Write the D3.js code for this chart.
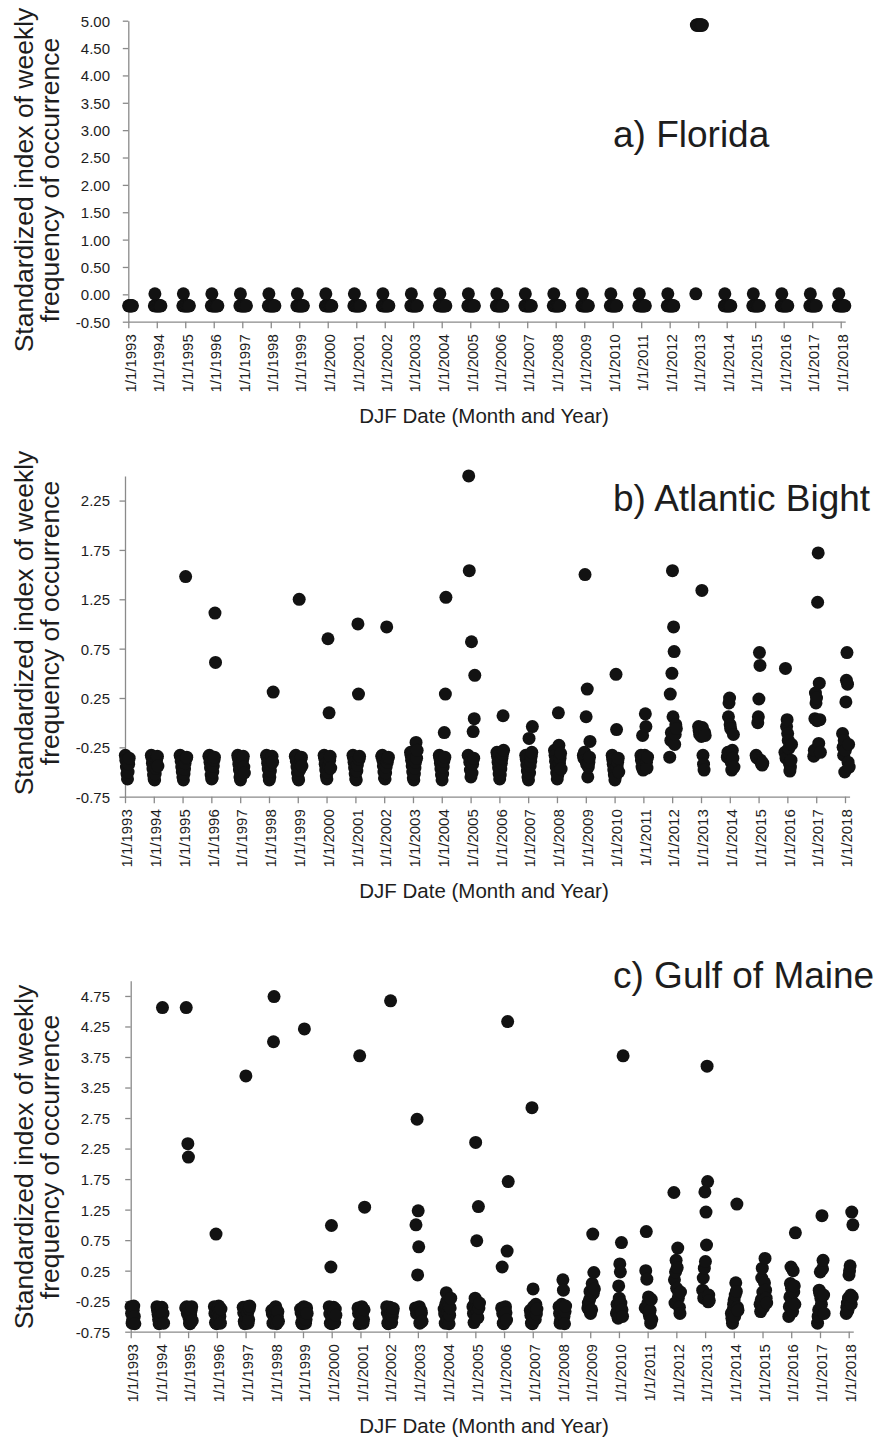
<!DOCTYPE html>
<html>
<head>
<meta charset="utf-8">
<script src="https://cdn.jsdelivr.net/npm/d3@7"></script>
<style>
  html, body { margin: 0; padding: 0; background: #fff; }
  svg { display: block; }
  text { font-family: "Liberation Sans", Arial, Helvetica, sans-serif; fill: #1d1d1d; }
</style>
</head>
<body>
<svg id="chart" width="881" height="1439"></svg>
<script>
// Winter seasons (DJF), labelled by the January year
const winterYears = [1993, 1994, 1995, 1996, 1997, 1998, 1999, 2000, 2001, 2002, 2003, 2004, 2005,
                     2006, 2007, 2008, 2009, 2010, 2011, 2012, 2013, 2014, 2015, 2016, 2017, 2018];

// Weekly sampling dates within each DJF season (month-day); December belongs to the previous year
const weekStarts = ["12-01", "12-08", "12-15", "12-22", "12-29", "01-05", "01-12",
                    "01-19", "01-26", "02-02", "02-09", "02-16", "02-23"];

// Standardized index of weekly frequency of occurrence, one row per season, one value per week
const floridaIndex = [
  [null, null, null, null, null, -0.21, -0.21, -0.21, -0.21, -0.21, -0.21, -0.21, -0.21],
  [-0.21, 0.01, -0.21, -0.21, -0.21, -0.21, -0.21, -0.21, -0.21, -0.21, -0.21, -0.21, -0.21],
  [-0.21, 0.01, -0.21, -0.21, -0.21, -0.21, -0.21, -0.21, -0.21, -0.21, -0.21, -0.21, -0.21],
  [-0.21, 0.01, -0.21, -0.21, -0.21, -0.21, -0.21, -0.21, -0.21, -0.21, -0.21, -0.21, -0.21],
  [-0.21, 0.01, -0.21, -0.21, -0.21, -0.21, -0.21, -0.21, -0.21, -0.21, -0.21, -0.21, -0.21],
  [-0.21, 0.01, -0.21, -0.21, -0.21, -0.21, -0.21, -0.21, -0.21, -0.21, -0.21, -0.21, -0.21],
  [-0.21, 0.01, -0.21, -0.21, -0.21, -0.21, -0.21, -0.21, -0.21, -0.21, -0.21, -0.21, -0.21],
  [-0.21, 0.01, -0.21, -0.21, -0.21, -0.21, -0.21, -0.21, -0.21, -0.21, -0.21, -0.21, -0.21],
  [-0.21, 0.01, -0.21, -0.21, -0.21, -0.21, -0.21, -0.21, -0.21, -0.21, -0.21, -0.21, -0.21],
  [-0.21, 0.01, -0.21, -0.21, -0.21, -0.21, -0.21, -0.21, -0.21, -0.21, -0.21, -0.21, -0.21],
  [-0.21, 0.01, -0.21, -0.21, -0.21, -0.21, -0.21, -0.21, -0.21, -0.21, -0.21, -0.21, -0.21],
  [-0.21, 0.01, -0.21, -0.21, -0.21, -0.21, -0.21, -0.21, -0.21, -0.21, -0.21, -0.21, -0.21],
  [-0.21, 0.01, -0.21, -0.21, -0.21, -0.21, -0.21, -0.21, -0.21, -0.21, -0.21, -0.21, -0.21],
  [-0.21, 0.01, -0.21, -0.21, -0.21, -0.21, -0.21, -0.21, -0.21, -0.21, -0.21, -0.21, -0.21],
  [-0.21, 0.01, -0.21, -0.21, -0.21, -0.21, -0.21, -0.21, -0.21, -0.21, -0.21, -0.21, -0.21],
  [-0.21, 0.01, -0.21, -0.21, -0.21, -0.21, -0.21, -0.21, -0.21, -0.21, -0.21, -0.21, -0.21],
  [-0.21, 0.01, -0.21, -0.21, -0.21, -0.21, -0.21, -0.21, -0.21, -0.21, -0.21, -0.21, -0.21],
  [-0.21, 0.01, -0.21, -0.21, -0.21, -0.21, -0.21, -0.21, -0.21, -0.21, -0.21, -0.21, -0.21],
  [-0.21, 0.01, -0.21, -0.21, -0.21, -0.21, -0.21, -0.21, -0.21, -0.21, -0.21, -0.21, -0.21],
  [-0.21, 0.01, -0.21, -0.21, -0.21, -0.21, -0.21, -0.21, -0.21, -0.21, -0.21, -0.21, -0.21],
  [0.01, 4.92, 4.92, 4.92, 4.92, 4.92, 4.92, 4.92, 4.92, 4.92, 4.92, 4.92, 4.92],
  [-0.21, 0.01, -0.21, -0.21, -0.21, -0.21, -0.21, -0.21, -0.21, -0.21, -0.21, -0.21, -0.21],
  [-0.21, 0.01, -0.21, -0.21, -0.21, -0.21, -0.21, -0.21, -0.21, -0.21, -0.21, -0.21, -0.21],
  [-0.21, 0.01, -0.21, -0.21, -0.21, -0.21, -0.21, -0.21, -0.21, -0.21, -0.21, -0.21, -0.21],
  [-0.21, 0.01, -0.21, -0.21, -0.21, -0.21, -0.21, -0.21, -0.21, -0.21, -0.21, -0.21, -0.21],
  [-0.21, 0.01, -0.21, -0.21, -0.21, -0.21, -0.21, -0.21, -0.21, -0.21, -0.21, -0.21, -0.21]
];

const atlanticBightIndex = [
  [null, null, null, null, null, -0.33, -0.38, -0.45, -0.52, -0.57, -0.50, -0.42, -0.36],
  [-0.33, -0.35, -0.41, -0.47, -0.53, -0.57, -0.58, -0.52, -0.46, -0.40, -0.36, -0.34, -0.44],
  [-0.33, -0.34, -0.39, -0.45, -0.50, -0.55, -0.58, -0.52, -0.47, -0.41, 1.48, -0.36, -0.35],
  [-0.34, -0.33, -0.40, -0.46, -0.53, -0.57, -0.56, -0.50, -0.44, -0.38, -0.35, 1.11, 0.61],
  [-0.33, -0.36, -0.42, -0.48, -0.55, -0.58, -0.53, -0.47, -0.41, -0.37, -0.34, -0.45, -0.51],
  [-0.33, -0.35, -0.41, -0.47, -0.54, -0.58, -0.55, -0.49, -0.43, -0.38, -0.34, -0.40, 0.31],
  [-0.34, -0.33, -0.39, -0.45, -0.51, -0.56, -0.58, 1.25, -0.48, -0.42, -0.37, -0.35, -0.44],
  [-0.33, -0.36, -0.42, -0.48, -0.54, -0.57, -0.50, 0.85, -0.44, 0.10, -0.38, -0.34, -0.46],
  [-0.33, -0.35, -0.40, -0.46, -0.52, -0.57, -0.58, -0.49, -0.43, 1.00, 0.29, -0.37, -0.34],
  [-0.34, -0.33, -0.38, -0.44, -0.50, -0.56, -0.57, -0.51, -0.45, 0.97, -0.40, -0.36, -0.35],
  [-0.30, -0.33, -0.38, -0.44, -0.50, -0.56, -0.58, -0.52, -0.46, -0.40, -0.20, -0.36, -0.28],
  [-0.33, -0.36, -0.41, -0.47, -0.53, -0.58, -0.52, -0.45, -0.39, -0.10, -0.35, 0.29, 1.27],
  [-0.33, 2.50, 1.54, -0.40, -0.48, -0.55, 0.82, -0.51, -0.42, -0.09, -0.36, 0.04, 0.48],
  [-0.30, -0.34, -0.40, -0.46, -0.52, -0.57, -0.53, -0.47, -0.41, -0.36, -0.32, 0.07, -0.28],
  [-0.33, -0.37, -0.43, -0.49, -0.55, -0.58, -0.16, -0.51, -0.44, -0.39, -0.34, -0.30, -0.04],
  [-0.28, -0.33, -0.39, -0.45, -0.51, -0.57, -0.53, 0.10, -0.23, -0.41, -0.36, -0.31, -0.47],
  [-0.33, -0.36, -0.30, 1.50, -0.38, 0.06, -0.42, 0.34, -0.55, -0.45, -0.40, -0.35, -0.19],
  [-0.33, -0.37, -0.42, -0.48, -0.53, -0.58, -0.55, 0.49, -0.07, -0.45, -0.40, -0.36, -0.50],
  [-0.33, -0.38, -0.45, -0.13, -0.48, -0.42, -0.36, -0.33, 0.09, -0.04, -0.40, -0.46, -0.35],
  [-0.35, 0.29, -0.18, -0.10, 0.50, 1.54, 0.06, 0.97, 0.72, -0.22, -0.12, -0.02, -0.06],
  [-0.04, -0.08, -0.12, -0.06, -0.10, -0.14, 1.34, -0.05, -0.33, -0.42, -0.48, -0.10, -0.13],
  [-0.35, -0.30, 0.06, 0.20, 0.25, -0.02, -0.06, -0.40, -0.48, -0.28, -0.36, -0.12, -0.45],
  [-0.33, -0.35, -0.36, 0.00, 0.06, 0.24, 0.71, 0.58, -0.38, -0.40, -0.42, -0.43, -0.41],
  [-0.30, 0.55, -0.36, -0.04, 0.03, -0.11, -0.18, -0.26, -0.41, -0.49, -0.45, -0.38, -0.22],
  [-0.34, -0.28, 0.04, 0.30, 0.20, 0.25, 0.02, 1.22, 1.72, -0.21, 0.40, 0.03, -0.30],
  [-0.11, -0.25, -0.33, -0.18, -0.50, -0.28, 0.21, 0.43, 0.71, 0.39, -0.40, -0.22, -0.45]
];

const gulfOfMaineIndex = [
  [null, null, null, null, null, -0.34, -0.45, -0.61, -0.55, -0.40, -0.33, -0.50, -0.62],
  [-0.34, -0.40, -0.47, -0.55, -0.62, -0.58, -0.50, -0.44, -0.38, -0.35, 4.56, -0.45, -0.61],
  [-0.36, 4.56, -0.34, -0.45, 2.33, 2.11, -0.52, -0.61, -0.62, -0.48, -0.40, -0.34, -0.57],
  [-0.34, -0.45, -0.60, 0.85, -0.62, -0.55, -0.44, -0.36, -0.33, -0.41, -0.50, -0.61, -0.38],
  [-0.35, -0.44, -0.58, -0.62, -0.50, 3.44, -0.40, -0.34, -0.45, -0.61, -0.55, -0.38, -0.33],
  [-0.40, -0.46, -0.61, 4.00, 4.74, -0.55, -0.36, -0.34, -0.44, -0.62, -0.50, -0.42, -0.58],
  [-0.38, -0.44, -0.60, -0.62, -0.52, -0.40, -0.34, 4.21, -0.46, -0.61, -0.55, -0.36, -0.45],
  [-0.34, -0.46, -0.61, 0.31, 0.99, -0.62, -0.52, -0.40, -0.35, -0.44, -0.60, -0.38, -0.48],
  [-0.36, -0.45, -0.62, 3.77, -0.60, -0.50, -0.40, -0.34, -0.46, -0.61, -0.55, -0.39, 1.29],
  [-0.34, -0.44, -0.61, -0.62, -0.52, -0.38, -0.35, 4.67, -0.46, -0.60, -0.50, -0.42, -0.37],
  [-0.36, 1.00, -0.45, 2.73, 0.18, 1.23, 0.64, -0.34, -0.61, -0.50, -0.40, -0.44, -0.58],
  [-0.38, -0.46, -0.61, -0.30, -0.11, -0.25, -0.42, -0.55, -0.34, -0.62, -0.48, -0.36, -0.20],
  [-0.34, -0.45, -0.60, -0.30, -0.20, 2.35, -0.38, 0.74, -0.41, -0.52, 1.30, -0.36, -0.28],
  [-0.36, 0.31, -0.45, -0.61, -0.62, -0.50, -0.38, -0.34, -0.44, -0.56, 0.57, 4.33, 1.71],
  [-0.40, -0.48, -0.61, 2.92, -0.62, -0.05, -0.34, -0.44, -0.36, -0.55, -0.30, -0.46, -0.38],
  [-0.34, -0.45, -0.61, -0.55, -0.40, -0.30, -0.36, 0.10, -0.07, -0.50, -0.62, -0.42, -0.33],
  [-0.36, -0.28, -0.39, -0.23, -0.09, -0.45, -0.16, -0.39, 0.04, 0.85, -0.12, 0.22, -0.05],
  [-0.45, -0.30, -0.39, -0.53, 0.00, -0.20, 0.36, 0.23, -0.28, 0.71, -0.39, -0.50, 3.77],
  [-0.36, 0.25, 0.89, 0.11, -0.34, -0.28, -0.18, -0.45, -0.50, -0.40, -0.61, -0.22, -0.55],
  [1.53, 0.10, -0.28, 0.23, 0.42, -0.04, 0.30, 0.62, -0.20, -0.13, -0.35, -0.45, -0.10],
  [-0.07, 0.13, -0.20, 0.29, 1.54, 0.40, 1.21, 0.67, 3.60, 1.71, -0.26, -0.15, -0.24],
  [-0.45, -0.53, -0.61, -0.39, -0.30, -0.23, -0.50, -0.15, 0.05, -0.09, 1.34, -0.35, -0.40],
  [-0.30, -0.42, -0.23, 0.13, 0.29, -0.10, -0.35, -0.15, 0.05, 0.45, -0.07, -0.20, -0.28],
  [-0.50, -0.34, -0.18, 0.04, 0.31, -0.04, -0.25, -0.42, 0.25, -0.10, 0.00, -0.30, 0.87],
  [-0.61, -0.50, -0.39, -0.07, -0.12, 0.23, -0.20, -0.30, 1.15, 0.28, 0.42, -0.15, -0.45],
  [-0.45, -0.35, -0.28, -0.40, -0.20, 0.18, 0.25, 0.33, -0.15, -0.30, 1.21, -0.18, 1.00]
];

// Y-axis tick labels for each panel
const floridaTicks = [-0.5, 0, 0.5, 1, 1.5, 2, 2.5, 3, 3.5, 4, 4.5, 5];
const atlanticBightTicks = [-0.75, -0.25, 0.25, 0.75, 1.25, 1.75, 2.25];
const gulfOfMaineTicks = [-0.75, -0.25, 0.25, 0.75, 1.25, 1.75, 2.25, 2.75, 3.25, 3.75, 4.25, 4.75];

// Panel titles and axis ranges
const panelTitles = ["a) Florida", "b) Atlantic Bight", "c) Gulf of Maine"];
const panelYDomains = [[-0.5, 5.0], [-0.75, 2.5], [-0.75, 5.0]];
const xAxisTitle = "DJF Date (Month and Year)";
const yAxisTitleLines = ["Standardized index of weekly", "frequency of occurrence"];

const panelSeries = [floridaIndex, atlanticBightIndex, gulfOfMaineIndex];
const panelTicks = [floridaTicks, atlanticBightTicks, gulfOfMaineTicks];

// Layout of the three stacked panels (pixel positions)
const layout = [
  { yTop: 20.7, yBottom: 321.7, x1993: 128.3, x2018: 840.7, titleY: 146.7, yTitleCy: 180 },
  { yTop: 475.9, yBottom: 796.7, x1993: 125.0, x2018: 845.0, titleY: 510.7, yTitleCy: 623 },
  { yTop: 980.7, yBottom: 1331.7, x1993: 130.7, x2018: 848.7, titleY: 988.3, yTitleCy: 1157 }
];

const svg = d3.select("#chart");
svg.append("rect").attr("width", 881).attr("height", 1439).attr("fill", "#fff");

const dateLabel = d3.timeFormat("%-m/%-d/%Y");
const jan1 = winterYears.map(y => new Date(y, 0, 1));
const seasonEnd = new Date(2018, 1, 28);

function weekDate(year, md) {
  const [m, d] = md.split("-").map(Number);
  return new Date(m === 12 ? year - 1 : year, m - 1, d);
}

const axisColor = "#8a8a8a";

panelSeries.forEach((series, p) => {
  const L = layout[p];
  const g = svg.append("g");

  const xBase = d3.scaleTime()
    .domain([jan1[0], jan1[jan1.length - 1]])
    .range([L.x1993, L.x2018]);
  const x = xBase.copy()
    .domain([jan1[0], seasonEnd])
    .range([L.x1993, xBase(seasonEnd)]);

  const y = d3.scaleLinear().domain(panelYDomains[p]).range([L.yBottom, L.yTop]);

  // points: one per week of every season
  const points = [];
  series.forEach((row, i) => {
    row.forEach((v, w) => {
      if (v !== null) points.push({ date: weekDate(winterYears[i], weekStarts[w]), value: v });
    });
  });

  // x axis
  const xAxis = g.append("g")
    .attr("transform", `translate(0,${L.yBottom})`)
    .call(d3.axisBottom(x).tickValues(jan1).tickFormat(dateLabel).tickSize(6.5).tickSizeOuter(0));
  xAxis.select(".domain").attr("stroke", axisColor).attr("stroke-width", 1.3);
  xAxis.selectAll(".tick line").attr("stroke", axisColor).attr("stroke-width", 1.3);
  xAxis.selectAll(".tick text")
    .attr("transform", "rotate(-90)")
    .attr("text-anchor", "end")
    .attr("x", -12.5)
    .attr("y", 0)
    .attr("dy", "0.45em")
    .style("font-size", "15px")
    .style("font-family", "'Liberation Sans', Arial, sans-serif")
    .attr("fill", "#1d1d1d");

  // y axis
  const yAxis = g.append("g")
    .attr("transform", `translate(${L.x1993},0)`)
    .call(d3.axisLeft(y).tickValues(panelTicks[p]).tickFormat(v => v.toFixed(2)).tickSize(5.5).tickSizeOuter(0));
  yAxis.select(".domain").attr("stroke", axisColor).attr("stroke-width", 1.3);
  yAxis.selectAll(".tick line").attr("stroke", axisColor).attr("stroke-width", 1.3);
  yAxis.selectAll(".tick text")
    .attr("x", 110 - L.x1993)
    .attr("text-anchor", "end")
    .attr("dy", "0.36em")
    .style("font-size", "15px")
    .style("font-family", "'Liberation Sans', Arial, sans-serif")
    .attr("fill", "#1d1d1d");

  // dots
  g.append("g")
    .selectAll("circle")
    .data(points)
    .join("circle")
    .attr("cx", d => x(d.date))
    .attr("cy", d => y(d.value))
    .attr("r", 6.5)
    .attr("fill", "#121212");

  // panel title
  g.append("text")
    .attr("x", 613)
    .attr("y", L.titleY)
    .style("font-size", "37px")
    .text(panelTitles[p]);

  // x axis title
  g.append("text")
    .attr("x", 484)
    .attr("y", L.yBottom + 101)
    .attr("text-anchor", "middle")
    .style("font-size", "20.5px")
    .text(xAxisTitle);

  // y axis title (two lines, rotated)
  yAxisTitleLines.forEach((line, k) => {
    g.append("text")
      .attr("transform", `translate(${32.5 + k * 26.5},${L.yTitleCy}) rotate(-90)`)
      .attr("text-anchor", "middle")
      .style("font-size", "26.5px")
      .text(line);
  });
});
</script>
</body>
</html>
